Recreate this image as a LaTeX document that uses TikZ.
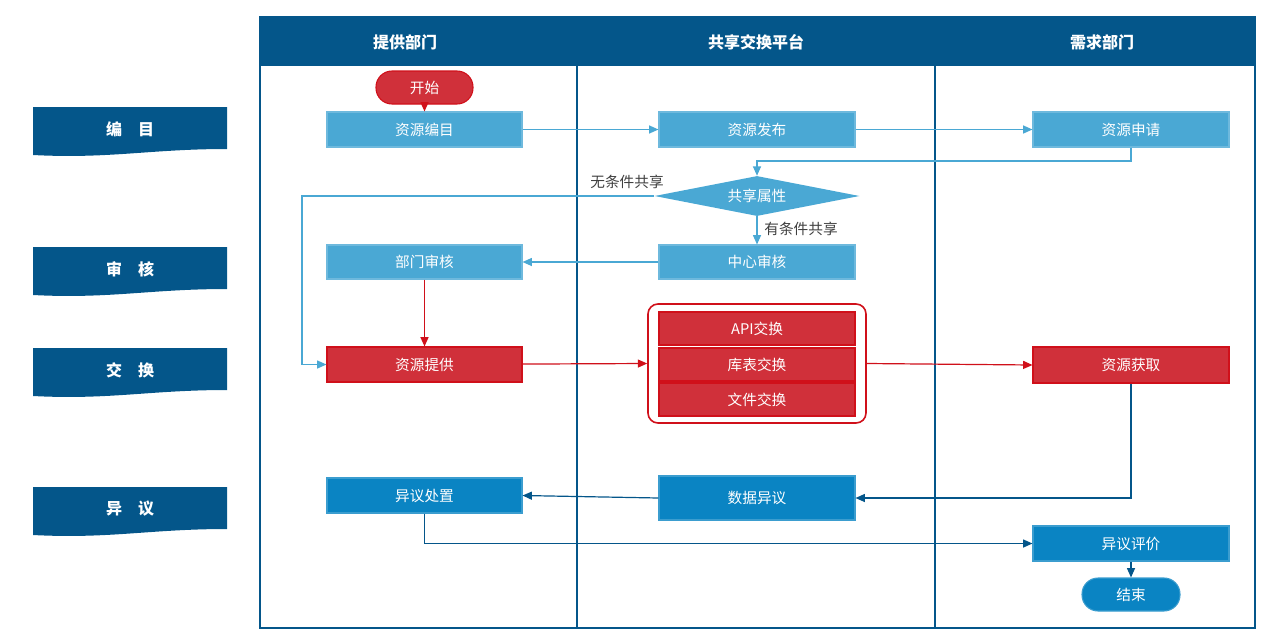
\documentclass[tikz,border=0pt]{standalone}
\usepackage{fontspec}
\setmainfont{Noto Sans CJK SC}
\usetikzlibrary{shapes.geometric,arrows.meta}
\definecolor{dk}{HTML}{04568A}
\definecolor{lb}{HTML}{4AA8D4}
\definecolor{rd}{HTML}{D0303A}
\definecolor{rl}{HTML}{D0101A}
\definecolor{mb}{HTML}{0A84C3}
\begin{document}
\begin{tikzpicture}[x=0.75pt,y=-0.75pt,
  box/.style={draw=#1!80!white,fill=#1,text=white,font=\fontsize{11}{12}\selectfont,inner sep=0,line width=0.8pt},
  lbl/.style={text=black!75,font=\fontsize{11}{12}\selectfont},
  ar/.style={draw=#1,line width=0.9pt,-{Triangle[length=7pt,width=6pt]}},
  band/.style={fill=dk,draw=none}]
\useasboundingbox (0,0) rectangle (1267,636);
% frame
\fill[dk] (260,17) rectangle (1255,66);
\draw[dk,line width=1pt] (260,17) rectangle (1255,628);
\draw[dk,line width=0.8pt] (577,66)--(577,628) (935,66)--(935,628);
\node[text=white,font=\bfseries\fontsize{12}{14}\selectfont] (h1) at (405,42) {提供部门};
\node[text=white,font=\bfseries\fontsize{12}{14}\selectfont] (h2) at (756,42) {共享交换平台};
\node[text=white,font=\bfseries\fontsize{12}{14}\selectfont] (h3) at (1102,42) {需求部门};
% banners
\foreach \y/\t in {107/{编\quad 目},247/{审\quad 核},348/{交\quad 换},487/{异\quad 议}}{
  \fill[dk] (33,\y) -- (227,\y) -- (227,\y+42) .. controls (150,\y+42) and (110,\y+52) .. (33,\y+48) -- cycle;
  \node[text=white,font=\bfseries\fontsize{12}{14}\selectfont] at (130,\y+22) {\t};
}
% nodes
\node[box=rd,draw=rl,rounded corners=16*0.75pt,minimum width=97*0.75pt,minimum height=33*0.75pt] (start) at (424.5,87.5) {开始};
\node[box=lb,minimum width=195*0.75pt,minimum height=35*0.75pt] (bm) at (424.5,129.5) {资源编目};
\node[box=lb,minimum width=196*0.75pt,minimum height=35*0.75pt] (fb) at (757,129.5) {资源发布};
\node[box=lb,minimum width=196*0.75pt,minimum height=35*0.75pt] (sq) at (1131,129.5) {资源申请};
\node[diamond,fill=lb,text=white,font=\fontsize{11}{12}\selectfont,inner sep=0,aspect=5,minimum width=205*0.75pt,minimum height=40*0.75pt] (dm) at (757,196) {共享属性};
\node[box=lb,minimum width=195*0.75pt,minimum height=34*0.75pt] (bs) at (424.5,262) {部门审核};
\node[box=lb,minimum width=196*0.75pt,minimum height=34*0.75pt] (zs) at (757,262) {中心审核};
\node[draw=rl,line width=1.2pt,rounded corners=10*0.75pt,minimum width=218*0.75pt,minimum height=119*0.75pt,inner sep=0] (ct) at (757,363.5) {};
\node[box=rd,draw=rl,minimum width=196*0.75pt,minimum height=33*0.75pt] (api) at (757,328.5) {API交换};
\node[box=rd,draw=rl,minimum width=196*0.75pt,minimum height=33*0.75pt] (kb) at (757,364.5) {库表交换};
\node[box=rd,draw=rl,minimum width=196*0.75pt,minimum height=33*0.75pt] (wj) at (757,399.5) {文件交换};
\node[box=rd,draw=rl,minimum width=195*0.75pt,minimum height=35*0.75pt] (tg) at (424.5,364.5) {资源提供};
\node[box=rd,draw=rl,minimum width=196*0.75pt,minimum height=36*0.75pt] (hq) at (1131,365) {资源获取};
\node[box=mb,minimum width=195*0.75pt,minimum height=35*0.75pt] (cz) at (424.5,495.5) {异议处置};
\node[box=mb,minimum width=196*0.75pt,minimum height=44*0.75pt] (sj) at (757,498) {数据异议};
\node[box=mb,minimum width=196*0.75pt,minimum height=35*0.75pt] (pj) at (1131,543.5) {异议评价};
\node[box=mb,rounded corners=16*0.75pt,minimum width=98*0.75pt,minimum height=33*0.75pt] (end) at (1131,594.5) {结束};
% connectors
\draw[ar=rl] (start) -- (bm);
\draw[ar=lb] (bm) -- (fb);
\draw[ar=lb] (fb) -- (sq);
\draw[ar=lb] (sq.south) |- (757,161) -- (dm.north);
\coordinate (c1) at (302,196);
\draw[ar=lb] (dm.west) -- (c1) |- (tg.west);
\node[lbl] (l1) at (627,182) {无条件共享};
\draw[ar=lb] (dm.south) -- (zs.north);
\node[lbl] (l2) at (801,229) {有条件共享};
\draw[ar=lb] (zs) -- (bs);
\draw[ar=rl] (bs) -- (tg);
\draw[ar=rl] (tg) -- (ct.west);
\draw[ar=rl] (ct.east) -- (hq.west);
\draw[ar=dk] (hq.south) |- (sj.east);
\draw[ar=dk] (sj.west) -- (cz.east);
\draw[ar=dk] (cz.south) |- (pj.west);
\draw[ar=dk] (pj) -- (end);
\end{tikzpicture}
\end{document}
